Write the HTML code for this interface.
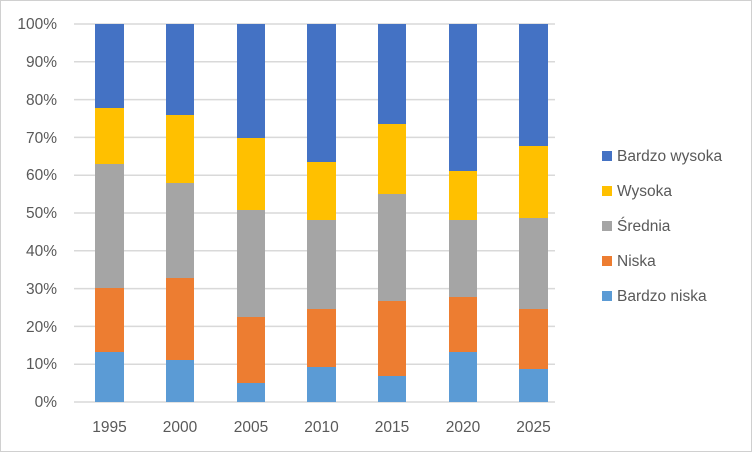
<!DOCTYPE html>
<html><head><meta charset="utf-8"><style>
body{margin:0;background:#fff}
svg{display:block;font-family:"Liberation Sans",sans-serif}
</style></head><body>
<svg width="752" height="452" viewBox="0 0 752 452">
<rect x="0.5" y="0.5" width="751" height="451" fill="#fff" stroke="#d0d0d0"/>
<g stroke="#d9d9d9" stroke-width="1.5">
<line x1="74" x2="555" y1="24" y2="24"/><line x1="74" x2="555" y1="61.8" y2="61.8"/>
<line x1="74" x2="555" y1="99.6" y2="99.6"/><line x1="74" x2="555" y1="137.4" y2="137.4"/>
<line x1="74" x2="555" y1="175.2" y2="175.2"/><line x1="74" x2="555" y1="213" y2="213"/>
<line x1="74" x2="555" y1="250.8" y2="250.8"/><line x1="74" x2="555" y1="288.6" y2="288.6"/>
<line x1="74" x2="555" y1="326.4" y2="326.4"/><line x1="74" x2="555" y1="364.2" y2="364.2"/>
<line x1="74" x2="555" y1="402" y2="402"/>
</g>
<g font-size="15.5" fill="#595959" text-anchor="end">
<text x="57" y="29">100%</text><text x="57" y="67">90%</text><text x="57" y="105">80%</text>
<text x="57" y="143">70%</text><text x="57" y="180">60%</text><text x="57" y="218">50%</text>
<text x="57" y="256">40%</text><text x="57" y="294">30%</text><text x="57" y="332">20%</text>
<text x="57" y="369">10%</text><text x="57" y="407">0%</text>
</g>
<g>
<rect x="95" y="24" width="29" height="84" fill="#4472c4"/><rect x="95" y="108" width="29" height="56" fill="#ffc000"/><rect x="95" y="164" width="29" height="124" fill="#a5a5a5"/><rect x="95" y="288" width="29" height="64" fill="#ed7d31"/><rect x="95" y="352" width="29" height="50" fill="#5b9bd5"/>
<rect x="166" y="24" width="28" height="91" fill="#4472c4"/><rect x="166" y="115" width="28" height="68" fill="#ffc000"/><rect x="166" y="183" width="28" height="95" fill="#a5a5a5"/><rect x="166" y="278" width="28" height="82" fill="#ed7d31"/><rect x="166" y="360" width="28" height="42" fill="#5b9bd5"/>
<rect x="237" y="24" width="28" height="114" fill="#4472c4"/><rect x="237" y="138" width="28" height="72" fill="#ffc000"/><rect x="237" y="210" width="28" height="107" fill="#a5a5a5"/><rect x="237" y="317" width="28" height="66" fill="#ed7d31"/><rect x="237" y="383" width="28" height="19" fill="#5b9bd5"/>
<rect x="307" y="24" width="29" height="138" fill="#4472c4"/><rect x="307" y="162" width="29" height="58" fill="#ffc000"/><rect x="307" y="220" width="29" height="89" fill="#a5a5a5"/><rect x="307" y="309" width="29" height="58" fill="#ed7d31"/><rect x="307" y="367" width="29" height="35" fill="#5b9bd5"/>
<rect x="378" y="24" width="28" height="100" fill="#4472c4"/><rect x="378" y="124" width="28" height="70" fill="#ffc000"/><rect x="378" y="194" width="28" height="107" fill="#a5a5a5"/><rect x="378" y="301" width="28" height="75" fill="#ed7d31"/><rect x="378" y="376" width="28" height="26" fill="#5b9bd5"/>
<rect x="449" y="24" width="28" height="147" fill="#4472c4"/><rect x="449" y="171" width="28" height="49" fill="#ffc000"/><rect x="449" y="220" width="28" height="77" fill="#a5a5a5"/><rect x="449" y="297" width="28" height="55" fill="#ed7d31"/><rect x="449" y="352" width="28" height="50" fill="#5b9bd5"/>
<rect x="519" y="24" width="29" height="122" fill="#4472c4"/><rect x="519" y="146" width="29" height="72" fill="#ffc000"/><rect x="519" y="218" width="29" height="91" fill="#a5a5a5"/><rect x="519" y="309" width="29" height="60" fill="#ed7d31"/><rect x="519" y="369" width="29" height="33" fill="#5b9bd5"/>
</g>
<g font-size="15.5" fill="#595959" text-anchor="middle">
<text x="109.5" y="432">1995</text><text x="180" y="432">2000</text><text x="251" y="432">2005</text>
<text x="321.5" y="432">2010</text><text x="392" y="432">2015</text><text x="463" y="432">2020</text>
<text x="533.5" y="432">2025</text>
</g>
<g font-size="15.5" fill="#595959">
<rect x="602" y="151" width="10" height="10" fill="#4472c4"/><text x="617" y="161">Bardzo wysoka</text>
<rect x="602" y="186" width="10" height="10" fill="#ffc000"/><text x="617" y="196">Wysoka</text>
<rect x="602" y="221" width="10" height="10" fill="#a5a5a5"/><text x="617" y="231">Średnia</text>
<rect x="602" y="256" width="10" height="10" fill="#ed7d31"/><text x="617" y="266">Niska</text>
<rect x="602" y="291" width="10" height="10" fill="#5b9bd5"/><text x="617" y="301">Bardzo niska</text>
</g>
</svg>
</body></html>
